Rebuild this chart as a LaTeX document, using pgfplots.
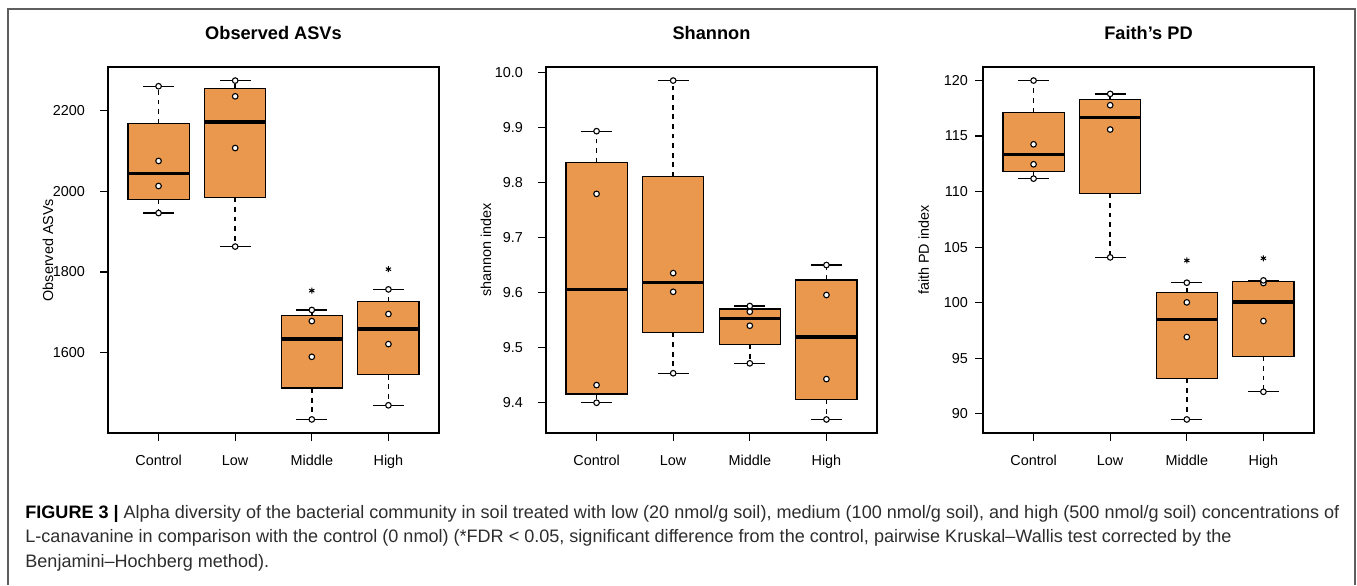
\documentclass[border=0pt]{standalone}
\usepackage{fontspec}
\setmainfont{Liberation Sans}
\usepackage{pgfplots}
\pgfplotsset{compat=1.18}
\definecolor{boxfill}{RGB}{233,152,77}
\definecolor{framegray}{RGB}{95,95,95}
\definecolor{captext}{RGB}{45,45,45}

\pgfplotsset{
  panel/.style={
    scale only axis, width=165.5pt, height=183pt, anchor=south west,
    xmin=0.34, xmax=4.66,
    xtick={1,2,3,4}, xticklabels={Control,Low,Middle,High},
    tick pos=left, tick align=outside, major tick length=4pt,
    axis line style={line width=0.65pt},
    every tick/.style={black, line width=0.65pt},
    tick label style={font=\fontsize{7.2}{8}\selectfont},
    label style={font=\fontsize{7.2}{8}\selectfont},
    xticklabel style={anchor=base, inner sep=0pt, yshift=-12pt},
    yticklabel style={anchor=east, inner sep=0pt, xshift=-7.3pt},
    title style={font=\bfseries\fontsize{9.1}{10}\selectfont, at={(axis description cs:0.5,1)}, anchor=center, yshift=11pt},
    ylabel style={at={(axis description cs:-0.181,0.5)}, anchor=center},
    /pgf/number format/assume math mode=true,
    /pgf/number format/1000 sep={},
  },
  pts/.style={only marks, mark=*, mark size=1.4pt, mark options={fill=white, draw=black, line width=0.55pt, solid}},
  stars/.style={only marks, mark=asterisk, mark size=1.5pt, mark options={line width=0.5pt, black}},
  whisk/.style={black, line width=0.7pt, dash pattern=on 2.4pt off 2.4pt, mark=none},
  cap/.style={black, line width=0.65pt, mark=none},
}
% position, lower whisker, lower quartile, median, upper quartile, upper whisker
\newcommand\bx[6]{%
  \pgfmathsetmacro\xl{#1-0.4}\pgfmathsetmacro\xr{#1+0.4}%
  \pgfmathsetmacro\cl{#1-0.2}\pgfmathsetmacro\cri{#1+0.2}%
  \addplot[whisk] coordinates {(#1,#3) (#1,#2)};
  \addplot[whisk] coordinates {(#1,#5) (#1,#6)};
  \addplot[cap] coordinates {(\cl,#2) (\cri,#2)};
  \addplot[cap] coordinates {(\cl,#6) (\cri,#6)};
  \addplot[draw=black, fill=boxfill, line width=0.65pt, mark=none] coordinates {(\xl,#3) (\xr,#3) (\xr,#5) (\xl,#5)} --cycle;
  \addplot[black, line width=1.7pt, mark=none] coordinates {(\xl,#4) (\xr,#4)};
}

\newcommand\capone{{\bfseries\color{black}FIGURE 3 |} Alpha diversity of the bacterial community in soil treated with low (20 nmol/g soil), medium (100 nmol/g soil), and high (500 nmol/g soil) concentrations of}
\newcommand\captwo{L-canavanine in comparison with the control (0 nmol) (*FDR < 0.05, significant difference from the control, pairwise Kruskal–Wallis test corrected by the}
\newcommand\capthree{Benjamini–Hochberg method).}
\newsavebox\capbox
\newlength\capw

\begin{document}%
\sbox\capbox{\fontsize{10pt}{12pt}\selectfont\capone}%
\setlength\capw{\wd\capbox}%
\pgfmathsetmacro\capfs{6570/\capw}%
\begin{tikzpicture}
\path[use as bounding box] (0,0) rectangle (678.5pt,292.5pt);
\draw[framegray, line width=0.6pt] (4pt,0) -- (4pt,288pt) -- (677.5pt,288pt) -- (677.5pt,0);

% ---------------- Observed ASVs
\begin{axis}[panel, at={(54pt,76pt)}, ymin=1401.4, ymax=2307.6, ytick={1600,1800,2000,2200},
  title={Observed ASVs}, ylabel={Observed ASVs}]
\bx{1}{1946}{1979.5}{2044}{2167.5}{2260}
\bx{2}{1863}{1985}{2171}{2254.5}{2274}
\bx{3}{1435}{1512.5}{1634.25}{1692.25}{1706}
\bx{4}{1470}{1545.75}{1658.75}{1726.5}{1757}
\addplot[pts] table {
x y
1 1946
1 2013
1 2075
1 2260
2 1863
2 2107
2 2235
2 2274
3 1435
3 1590
3 1678.5
3 1706
4 1470
4 1621.5
4 1696
4 1757
};
\addplot[stars] coordinates {(3,1754) (4,1807)};
\end{axis}

% ---------------- Shannon
\begin{axis}[panel, at={(273pt,76pt)}, ymin=9.3444, ymax=10.0096, ytick={9.4,9.5,9.6,9.7,9.8,9.9,10.0},
  yticklabel style={/pgf/number format/.cd, fixed, fixed zerofill, precision=1},
  title={Shannon}, ylabel={shannon index}]
\bx{1}{9.3994}{9.4155}{9.6053}{9.836}{9.893}
\bx{2}{9.453}{9.527}{9.618}{9.81}{9.985}
\bx{3}{9.471}{9.5052}{9.5521}{9.57}{9.5752}
\bx{4}{9.369}{9.4057}{9.5188}{9.6225}{9.6497}
\addplot[pts] table {
x y
1 9.3994
1 9.4315
1 9.779
1 9.893
2 9.453
2 9.601
2 9.635
2 9.985
3 9.471
3 9.5394
3 9.5648
3 9.5752
4 9.369
4 9.4424
4 9.5952
4 9.6497
};
\end{axis}

% ---------------- Faith's PD
\begin{axis}[panel, at={(491.5pt,76pt)}, ymin=88.27, ymax=121.22, ytick={90,95,100,105,110,115,120},
  yticklabel style={xshift=3.95pt},
  title={Faith's PD}, ylabel={faith PD index}, ylabel style={at={(axis description cs:-0.179,0.5)}}]
\bx{1}{111.17}{111.815}{113.36}{117.13}{120.0}
\bx{2}{104.08}{109.835}{116.685}{118.29}{118.8}
\bx{3}{89.49}{93.2}{98.47}{100.915}{101.8}
\bx{4}{91.98}{95.165}{100.06}{101.89}{102.01}
\addplot[pts] table {
x y
1 111.17
1 112.46
1 114.26
1 120.0
2 104.08
2 115.59
2 117.78
2 118.8
3 89.49
3 96.91
3 100.03
3 101.8
4 91.98
4 98.35
4 101.77
4 102.01
};
\addplot[stars] coordinates {(3,103.8) (4,104.0)};
\end{axis}

% ---------------- caption
\begin{scope}[every node/.style={anchor=base west, inner sep=0pt, text=captext, font=\fontsize{\capfs pt}{12pt}\selectfont}]
\node at (12.5pt,33.5pt) {\capone};
\node at (12.5pt,21.25pt) {\captwo};
\node at (12.5pt,9pt) {\capthree};
\end{scope}
\end{tikzpicture}%
\end{document}
